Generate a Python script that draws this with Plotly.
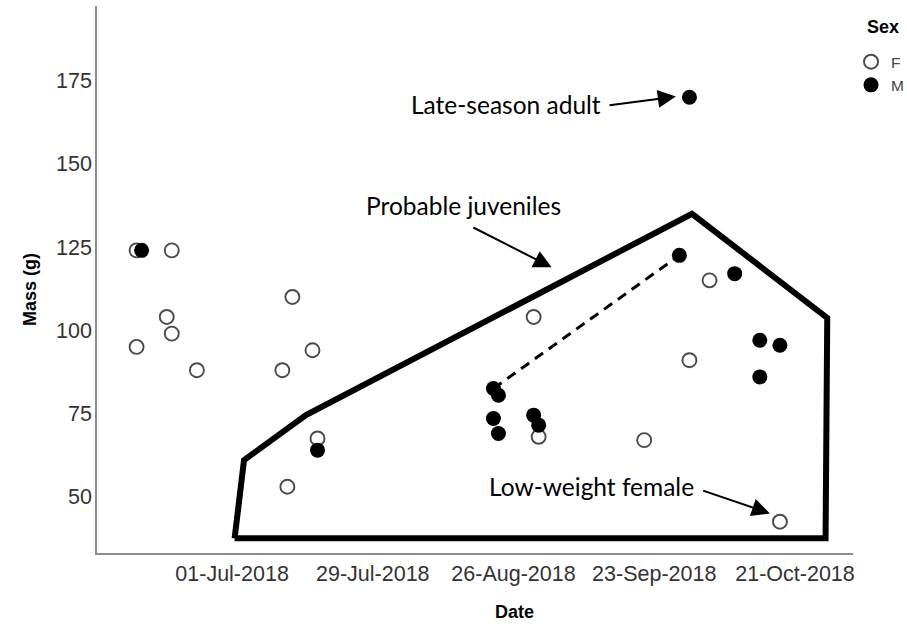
import plotly.graph_objects as go

# ---- data ----
f_dates = ["2018-06-12", "2018-06-19", "2018-07-13", "2018-06-18", "2018-06-19",
           "2018-06-12", "2018-06-24", "2018-07-11", "2018-07-17", "2018-07-18",
           "2018-07-12", "2018-08-30", "2018-08-31", "2018-09-21", "2018-10-04",
           "2018-09-30", "2018-10-18"]
f_mass = [124, 124, 110, 104, 99, 95, 88, 88, 94, 67.5, 53, 104, 68, 67, 115, 91, 42.5]

m_dates = ["2018-06-13", "2018-07-18", "2018-08-22", "2018-08-23", "2018-08-22",
           "2018-08-23", "2018-08-30", "2018-08-31", "2018-09-28", "2018-10-09",
           "2018-10-14", "2018-10-18", "2018-10-14", "2018-09-30"]
m_mass = [124, 64, 82.5, 80.5, 73.5, 69, 74.5, 71.5, 122.5, 117, 97, 95.5, 86, 170]

# convex outline of "probable juveniles"
hull_dates = ["2018-07-01 12:00", "2018-07-03 09:00", "2018-07-15 17:00",
              "2018-09-30 12:00", "2018-10-27 10:00", "2018-10-27 02:00",
              "2018-07-01 12:00"]
hull_mass = [37.5, 61.0, 74.5, 135.0, 103.7, 37.5, 37.5]

# dashed link between two males
link_dates = ["2018-08-22", "2018-09-28"]
link_mass = [82.5, 122.5]

tick_dates = ["2018-07-01", "2018-07-29", "2018-08-26", "2018-09-23", "2018-10-21"]
tick_labels = ["01-Jul-2018", "29-Jul-2018", "26-Aug-2018", "23-Sep-2018", "21-Oct-2018"]
y_ticks = [50, 75, 100, 125, 150, 175]

# annotations: (text, x, y)
labels = [
    ("Late-season adult", "2018-08-24 12:00", 167.7),
    ("Probable juveniles", "2018-08-16 00:00", 137.6),
    ("Low-weight female", "2018-09-10 14:00", 53.0),
]
# arrows: (head x, head y, tail x, tail y)
arrows = [
    ("2018-09-27 07:00", 170.2, "2018-09-13 19:00", 167.5),
    ("2018-09-02 14:00", 118.9, "2018-08-17 17:00", 131.1),
    ("2018-10-16 00:00", 45.0, "2018-10-02 10:00", 52.0),
]

fig = go.Figure()

fig.add_trace(go.Scatter(x=hull_dates, y=hull_mass, mode="lines",
                         line=dict(color="black", width=6), showlegend=False,
                         hoverinfo="skip"))
fig.add_trace(go.Scatter(x=link_dates, y=link_mass, mode="lines",
                         line=dict(color="black", width=3, dash="10px,7px"),
                         showlegend=False, hoverinfo="skip"))
fig.add_trace(go.Scatter(x=f_dates, y=f_mass, mode="markers", name="F",
                         marker=dict(symbol="circle-open", size=14,
                                     color="#4a4a4a", line=dict(width=1.9))))
fig.add_trace(go.Scatter(x=m_dates, y=m_mass, mode="markers", name="M",
                         marker=dict(symbol="circle", size=15, color="black",
                                     line=dict(width=0))))

annos = []
for text, x, y in labels:
    annos.append(dict(text=text, x=x, y=y, xref="x", yref="y", showarrow=False,
                      xanchor="center", yanchor="middle",
                      font=dict(family="Lato, Open Sans, sans-serif", size=24.5,
                                color="black")))
for hx, hy, tx, ty in arrows:
    annos.append(dict(text="", x=hx, y=hy, ax=tx, ay=ty, xref="x", yref="y",
                      axref="x", ayref="y", showarrow=True, arrowhead=2,
                      arrowsize=1.8, arrowwidth=2, arrowcolor="black", standoff=0))
# axis titles and legend title
annos.append(dict(text="<b>Date</b>", x=0.5516, y=-0.108, xref="paper", yref="paper",
                  showarrow=False, xanchor="center", yanchor="middle",
                  font=dict(family="Liberation Sans, Arial, sans-serif", size=18,
                            color="black")))
annos.append(dict(text="<b>Mass (g)</b>", x=-0.0886, y=0.4808, xref="paper",
                  yref="paper", showarrow=False, textangle=-90, xanchor="center",
                  yanchor="middle",
                  font=dict(family="Liberation Sans, Arial, sans-serif", size=18,
                            color="black")))
annos.append(dict(text="<b>Sex</b>", x=1.0159, y=0.961, xref="paper", yref="paper",
                  showarrow=False, xanchor="left", yanchor="middle",
                  font=dict(family="Liberation Sans, Arial, sans-serif", size=18,
                            color="black")))

fig.update_layout(
    width=907, height=631,
    margin=dict(l=97, r=54, t=6, b=78, autoexpand=False),
    plot_bgcolor="white", paper_bgcolor="white",
    font=dict(family="Liberation Sans, Arial, sans-serif"),
    annotations=annos,
    showlegend=True,
    legend=dict(x=0.9974, y=0.9285, xanchor="left", yanchor="top",
                font=dict(size=15.5, color="#444444"), itemwidth=30,
                bgcolor="rgba(0,0,0,0)", tracegroupgap=0),
)
fig.update_xaxes(type="date", range=["2018-06-04 03:00", "2018-11-01 13:00"],
                 tickvals=tick_dates, ticktext=tick_labels, showgrid=False,
                 zeroline=False, showline=True, linecolor="#8c8c8c", linewidth=1.5,
                 ticks="", tickfont=dict(size=21.5, color="#333333"),
                 ticklabelstandoff=0)
fig.update_yaxes(range=[33.1, 197.4], tickvals=y_ticks, showgrid=False,
                 zeroline=False, showline=True, linecolor="#8c8c8c", linewidth=1.5,
                 ticks="", tickfont=dict(size=21.5, color="#333333"),
                 ticklabelstandoff=-1)

fig.write_html("out.html")
